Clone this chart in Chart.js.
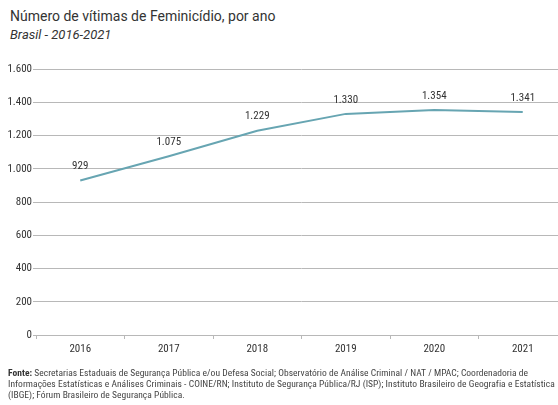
<!DOCTYPE html>
<html>
<head>
<meta charset="utf-8">
<script src="https://cdn.jsdelivr.net/npm/chart.js@4/dist/chart.umd.min.js"></script>
<style>
  html, body { margin: 0; padding: 0; background: #fff; overflow: hidden; width: 558px; height: 405px; }
  #title { position: absolute; left: 10px; top: 8px; font: 14px Roboto, sans-serif; color: #333; white-space: nowrap; }
  #subtitle { position: absolute; left: 10px; top: 27px; font: italic 13px Roboto, sans-serif; color: #333; white-space: nowrap; }
  #wrap { position: absolute; left: 0; top: 0; width: 570px; height: 405px; }
  #note { position: absolute; left: 8px; top: 367px; font: 9.5px "Roboto Condensed", sans-serif; color: #444; line-height: 11px; letter-spacing: 0.04px; white-space: nowrap; }
  #note b { color: #333; }
</style>
</head>
<body>
<div id="title">Número de vítimas de Feminicídio, por ano</div>
<div id="subtitle">Brasil - 2016-2021</div>
<div id="wrap"><canvas id="chart-feminicidio"></canvas></div>
<div id="note"><b>Fonte:</b> Secretarias Estaduais de Segurança Pública e/ou Defesa Social; Observatório de Análise Criminal / NAT / MPAC; Coordenadoria de<br>Informações Estatísticas e Análises Criminais - COINE/RN; Instituto de Segurança Pública/RJ (ISP); Instituto Brasileiro de Geografia e Estatística<br>(IBGE); Fórum Brasileiro de Segurança Pública.</div>

<script>
// dados
const anos = ['2016', '2017', '2018', '2019', '2020', '2021'];
const vitimas = [929, 1075, 1229, 1330, 1354, 1341];
const rotulos = ['929', '1.075', '1.229', '1.330', '1.354', '1.341'];

const fonteCond = '"Roboto Condensed", sans-serif';

// rotulos em cima dos pontos
const labelPlugin = {
    id: 'labelPlugin',
    afterDatasetsDraw(chart) {
        const ctx = chart.ctx;
        const meta = chart.getDatasetMeta(0);
        ctx.save();
        ctx.font = '11px ' + fonteCond;
        ctx.fillStyle = '#333';
        ctx.textAlign = 'center';
        ctx.textBaseline = 'middle';
        meta.data.forEach((pt, i) => {
            ctx.fillText(rotulos[i], pt.x, pt.y - 14);
        });
        ctx.restore();
    }
};

var ctx = document.getElementById('chart-feminicidio').getContext('2d');
var chart_feminicidio = new Chart(ctx, {
    type: 'line',
    data: {
        labels: anos,
        datasets: [{
            label: 'Vítimas',
            data: vitimas,
            borderColor: '#67a5b2',
            borderWidth: 2,
            pointRadius: 0,
            tension: 0,
            fill: false
        }]
    },
    options: {
        responsive: true,
        maintainAspectRatio: false,
        animation: false,
        layout: {
            padding: { top: 69, bottom: 45, left: 0, right: 3 }
        },
        plugins: {
            legend: { display: false },
            tooltip: { enabled: false }
        },
        scales: {
            x: {
                offset: true,
                afterFit(scale) { scale.height = 25; },
                grid: {
                    offset: true,
                    drawOnChartArea: false,
                    tickLength: 4,
                    color: '#b8b8b8'
                },
                border: { color: '#b8b8b8' },
                ticks: {
                    autoSkip: false,
                    maxRotation: 0,
                    padding: 4,
                    color: '#333',
                    font: { family: fonteCond, size: 11 }
                }
            },
            y: {
                min: 0,
                max: 1600,
                afterFit(scale) { scale.width = 36; },
                grid: {
                    color: '#b8b8b8',
                    tickLength: 3
                },
                border: { display: false },
                ticks: {
                    stepSize: 200,
                    padding: 1,
                    color: '#333',
                    font: { family: fonteCond, size: 11 },
                    callback: v => v.toLocaleString('pt-BR')
                }
            }
        }
    },
    plugins: [labelPlugin]
});
</script>
</body>
</html>
